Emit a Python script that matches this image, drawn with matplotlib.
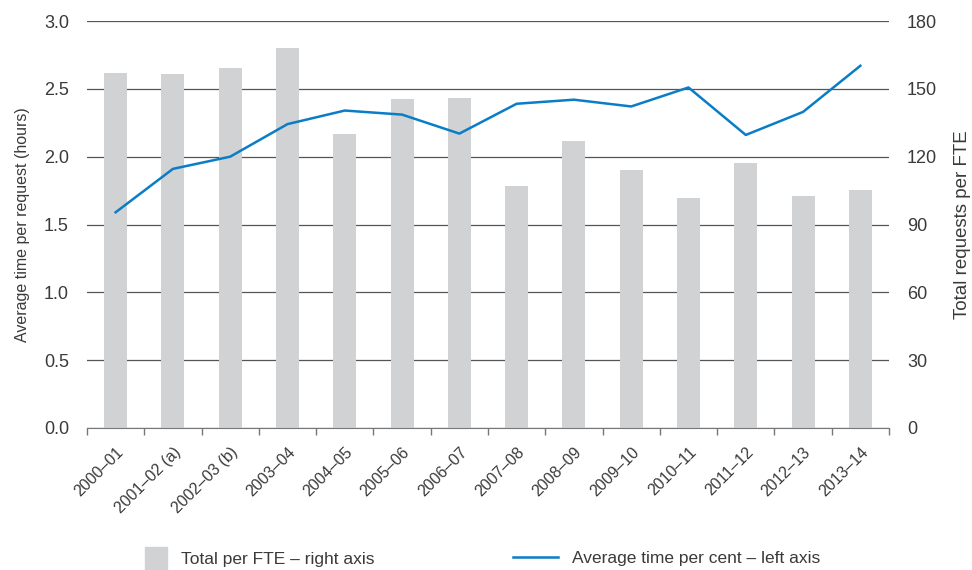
import numpy as np
import matplotlib.pyplot as plt
from matplotlib.patches import Patch
from matplotlib.lines import Line2D

plt.rcParams['font.family'] = ['Liberation Sans', 'DejaVu Sans']

# data
years = ['2000–01', '2001–02 (a)', '2002–03 (b)', '2003–04', '2004–05', '2005–06',
         '2006–07', '2007–08', '2008–09', '2009–10', '2010–11', '2011–12',
         '2012–13', '2013–14']
total_per_fte = [157, 156.6, 159.2, 168, 130, 145.5, 146, 107, 127, 114, 101.7, 117.2, 102.6, 105.3]
avg_time = [1.59, 1.91, 2.00, 2.24, 2.34, 2.31, 2.17, 2.39, 2.42, 2.37, 2.51, 2.16, 2.33, 2.67]

txt = '#3a3a3a'
bar_col = '#d1d2d4'
line_col = '#0a7dc6'

fig = plt.figure(figsize=(9.72, 5.70), dpi=100)
ax = fig.add_axes([87/972, 1 - 428/570, (889 - 87)/972, (428 - 21)/570])

x = np.arange(len(years))

# bars (right axis) on the primary axes so the line sits above them
ax.bar(x, total_per_fte, width=0.4, color=bar_col, zorder=2)
ax.set_ylim(0, 180)
ax.set_xlim(-0.5, len(years) - 0.5)
ax.set_yticks(np.arange(0, 181, 30))
ax.grid(axis='y', color='#555555', lw=0.9, zorder=0)
ax.set_axisbelow(True)

# category ticks at bar boundaries, labels at centres
ax.set_xticks(np.arange(len(years) + 1) - 0.5)
ax.set_xticklabels([])
ax.tick_params(axis='x', which='major', length=5, color='#777777', width=1)
ax.set_xticks(x, minor=True)
ax.set_xticklabels(years, minor=True, rotation=45, ha='right', rotation_mode='anchor',
                   fontsize=11.5, color=txt)
ax.tick_params(axis='x', which='minor', length=0, pad=12)

for s in ['top', 'left', 'right']:
    ax.spines[s].set_visible(False)
ax.spines['bottom'].set_color('#777777')
ax.spines['bottom'].set_zorder(3)

# line on left axis
ax2 = ax.twinx()
ax2.plot(x, avg_time, color=line_col, lw=1.8, zorder=5)
ax2.set_ylim(0, 3)
ax2.set_yticks(np.arange(0, 3.01, 0.5))
ax2.set_yticklabels([f'{v:.1f}' for v in np.arange(0, 3.01, 0.5)])
for s in ax2.spines.values():
    s.set_visible(False)

# swap sides after twinx
ax.yaxis.tick_right()
ax.yaxis.set_label_position('right')
ax2.yaxis.tick_left()
ax2.yaxis.set_label_position('left')

ax.set_ylabel('Total requests per FTE', fontsize=13.5, color=txt, labelpad=12)
ax.tick_params(axis='y', length=0, pad=13, labelsize=13, labelcolor=txt)
ax2.set_ylabel('Average time per request (hours)', fontsize=11.5, color=txt, labelpad=10)
ax2.tick_params(axis='y', length=0, pad=13, labelsize=13, labelcolor=txt)

# legends
fig.legend(handles=[Patch(color=bar_col, label='Total per FTE – right axis')],
           loc='center left', bbox_to_anchor=(129/972, 1 - 558/570), frameon=False,
           handlelength=1.3, handleheight=1.5, handletextpad=0.8, fontsize=12.5,
           labelcolor=txt)
fig.legend(handles=[Line2D([], [], color=line_col, lw=1.8,
                           label='Average time per cent – left axis')],
           loc='center left', bbox_to_anchor=(497/972, 1 - 558/570), frameon=False,
           handlelength=2.6, handletextpad=0.8, fontsize=12.5, labelcolor=txt)

fig.savefig('out.png', dpi=100)
